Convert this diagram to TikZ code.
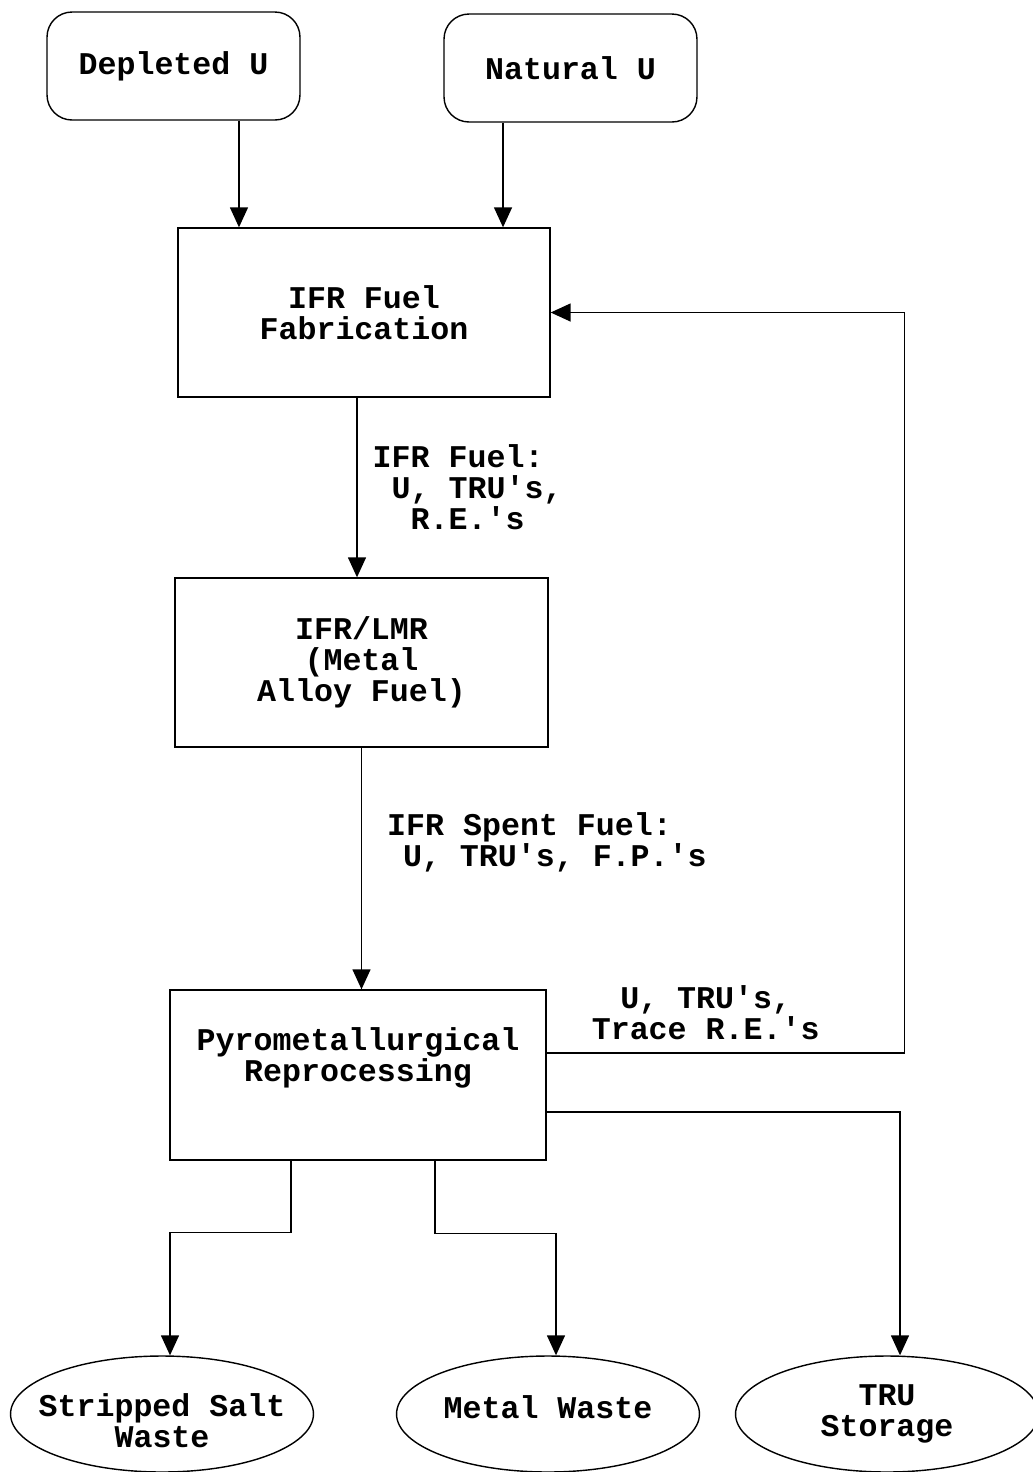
\documentclass[tikz,border=0pt]{standalone}
\usepackage{fontspec}
\setmonofont{Liberation Mono}
\usetikzlibrary{arrows.meta,positioning,shapes.geometric}

\begin{document}
\begin{tikzpicture}[
  x=0.02cm, y=-0.02cm,
  font=\ttfamily\bfseries\fontsize{18}{17.6}\selectfont,
  line width=0.8pt,
  src/.style={draw, rounded corners=0.5cm, minimum width=5.06cm, minimum height=2.16cm},
  box/.style={draw, align=center, minimum width=7.44cm, minimum height=3.38cm},
  sink/.style={draw, ellipse, inner sep=0pt, minimum width=6.06cm, minimum height=2.32cm},
  lbl/.style={align=left, inner sep=0pt},
  arr/.style={-{Triangle[length=0.4cm,width=0.36cm]}}
]
\useasboundingbox (0,0) rectangle (1033,1472);
\node[src] (dep) at (173.5,66) {Depleted U};
\node[src] (nat) at (570.5,68) {Natural U};
\node[box] (fab) at (364,312.5) {IFR Fuel\\Fabrication};
\node[box, minimum width=7.46cm] (lmr) at (361.5,662.5) {IFR/LMR\\(Metal\\Alloy Fuel)};
\node[box, minimum width=7.52cm, minimum height=3.4cm,
      label={[align=center, yshift=0.34cm]center:Pyrometallurgical\\Reprocessing}] (pyro) at (358,1075) {};
\node[sink, label={[align=center, yshift=-0.14cm]center:Stripped Salt\\Waste}] (salt) at (162,1414) {};
\node[sink, label={[yshift=0.14cm]center:Metal Waste}] (metal) at (548,1414) {};
\node[sink, label={[align=center]center:TRU\\Storage}] (tru) at (887,1414) {};
\draw[arr] ([xshift=1.31cm]dep.south) -- ([xshift=1.31cm]dep.south |- fab.north);
\draw[arr] ([xshift=-1.35cm]nat.south) -- ([xshift=-1.35cm]nat.south |- fab.north);
\draw[arr] ([xshift=-0.14cm]fab.south) -- ([xshift=-0.14cm]fab.south |- lmr.north)
      node[lbl, midway, right=0.3cm]{IFR Fuel:\\\phantom{x}U, TRU's,\\\phantom{xx}R.E.'s};
\draw[arr] (lmr.south) -- (lmr.south |- pyro.north)
      node[lbl, pos=0.39, right=0.5cm]{IFR Spent Fuel:\\\hspace*{0.5em}U, TRU's, F.P.'s};
\draw[arr] ([yshift=0.44cm]pyro.east) -- ++(358,0)
      node[lbl, align=center, midway, above=0.25cm, xshift=-0.4cm]{U, TRU's,\\Trace R.E.'s}
      |- (fab.east);
\draw[arr] ([yshift=-0.74cm]pyro.east) -| ([xshift=0.26cm]tru.north);
\draw[arr] ([xshift=-1.34cm]pyro.south) -- ++(0,72) -| ([xshift=0.16cm]salt.north);
\draw[arr] ([xshift=1.54cm]pyro.south) -- ++(0,73) -| ([xshift=0.16cm]metal.north);
\end{tikzpicture}
\end{document}
